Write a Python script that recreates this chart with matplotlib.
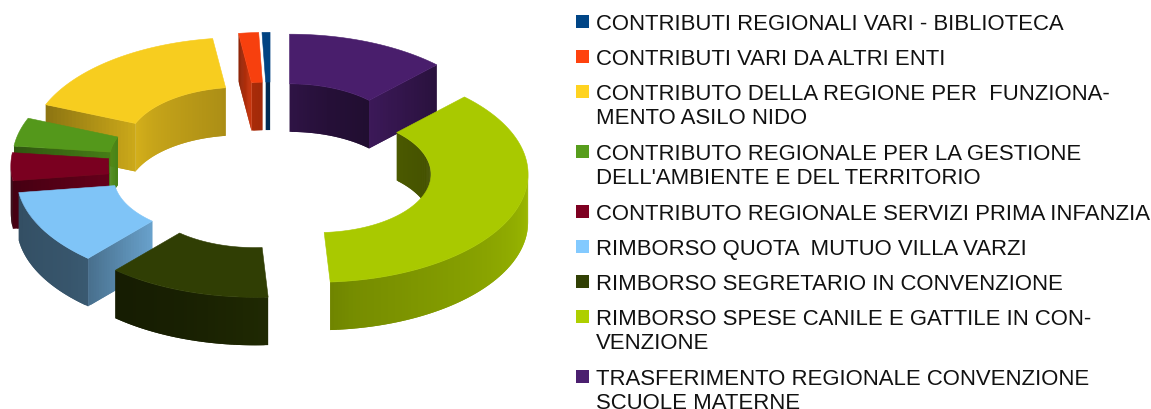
import matplotlib
matplotlib.use("Agg")
import matplotlib.pyplot as plt
import numpy as np

labels = [
    "CONTRIBUTI REGIONALI VARI - BIBLIOTECA",
    "CONTRIBUTI VARI DA ALTRI ENTI",
    "CONTRIBUTO DELLA REGIONE PER  FUNZIONA-\nMENTO ASILO NIDO",
    "CONTRIBUTO REGIONALE PER LA GESTIONE\nDELL'AMBIENTE E DEL TERRITORIO",
    "CONTRIBUTO REGIONALE SERVIZI PRIMA INFANZIA",
    "RIMBORSO QUOTA  MUTUO VILLA VARZI",
    "RIMBORSO SEGRETARIO IN CONVENZIONE",
    "RIMBORSO SPESE CANILE E GATTILE IN CON-\nVENZIONE",
    "TRASFERIMENTO REGIONALE CONVENZIONE\nSCUOLE MATERNE",
]
values = [0.61, 1.53, 16.67, 4.25, 4.17, 11.25, 12.5, 36.7, 12.3]
colors = ["#004586", "#ff420e", "#ffd320", "#579d1c", "#7e0021",
          "#83caff", "#314004", "#aecf00", "#4b1f6f"]

# projected ring geometry, in pixels
CX, CY = 271, 166.5
RX, RY = 211, 108
HOLE = 0.54
EXPLODE = 0.233
DEPTH = 48


def shade(normal):
    # brightness of a wall by the compass direction it faces (180 = towards us)
    return np.interp(normal % 360, [90, 130, 170, 200, 230, 270],
                     [0.9, 0.78, 0.68, 0.5, 0.42, 0.38])


def darker(color, k):
    rgb = np.array(matplotlib.colors.to_rgb(color))
    return tuple(np.clip(rgb * k, 0, 1))


def ring_xy(ox, oy, theta, frac):
    t = np.radians(theta)
    return ox + frac * RX * np.sin(t), oy - frac * RY * np.cos(t)


def wall(ax, x0, y0, x1, y1, color):
    ax.fill([x0, x1, x1, x0], [y0, y1, y1 + DEPTH, y0 + DEPTH],
            facecolor=color, edgecolor="none")


def curved_wall(ax, ox, oy, a0, a1, frac, color, offset):
    angles = np.linspace(a0, a1, max(int(a1 - a0) + 2, 3))
    step = angles[1] - angles[0]
    for p, q in zip(angles[:-1], angles[1:]):
        mid = (p + q) / 2
        facing = mid + offset
        # only the half that looks at the viewer
        if np.cos(np.radians(facing)) < 0:
            x0, y0 = ring_xy(ox, oy, p, frac)
            # run each strip under the next one so no seam shows
            x1, y1 = ring_xy(ox, oy, min(q + step, a1), frac)
            wall(ax, x0, y0, x1, y1, darker(color, shade(facing)))


def radial_wall(ax, ox, oy, theta, normal, color):
    if np.cos(np.radians(normal)) >= -0.1:
        return
    fracs = np.linspace(1, HOLE, 25)
    for i, (p, q) in enumerate(zip(fracs[:-1], fracs[1:])):
        x0, y0 = ring_xy(ox, oy, theta, p)
        x1, y1 = ring_xy(ox, oy, theta, fracs[min(i + 2, 24)])
        # flat end faces: dark at the rim, lighter towards the hole
        k = 0.55 + 0.25 * (1 - (p + q) / 2) / (1 - HOLE)
        wall(ax, x0, y0, x1, y1, darker(color, k))


def draw_slice(ax, a0, a1, color):
    mid = np.radians((a0 + a1) / 2)
    ox = CX + EXPLODE * RX * np.sin(mid)
    oy = CY - EXPLODE * RY * np.cos(mid)
    curved_wall(ax, ox, oy, a0, a1, HOLE, color, 180)
    radial_wall(ax, ox, oy, a0, a0 - 90, color)
    radial_wall(ax, ox, oy, a1, a1 + 90, color)
    curved_wall(ax, ox, oy, a0, a1, 1, color, 0)
    angles = np.linspace(a0, a1, max(int(a1 - a0) * 2 + 2, 3))
    xo, yo = ring_xy(ox, oy, angles, 1)
    xi, yi = ring_xy(ox, oy, angles[::-1], HOLE)
    top = darker(color, 0.97)
    ax.fill(np.r_[xo, xi], np.r_[yo, yi], facecolor=top, edgecolor=top,
            linewidth=0.4)


fig = plt.figure(figsize=(11.51, 4.10), dpi=100)
ax = fig.add_axes([0, 0, 1, 1])
ax.set_xlim(0, 1151)
ax.set_ylim(410, 0)
ax.axis("off")

# slices run clockwise from 12 o'clock, last legend entry first
vals = np.array(values[::-1])
cols = colors[::-1]
edges = np.r_[0, np.cumsum(vals)] / vals.sum() * 360
mids = (edges[:-1] + edges[1:]) / 2
# paint the far slices first
for i in np.argsort(-np.cos(np.radians(mids))):
    draw_slice(ax, edges[i], edges[i + 1], cols[i])

# legend
y = 22.8
for label, color in zip(labels, colors):
    ax.add_patch(plt.Rectangle((576.5, y - 7), 12.5, 13, facecolor=color,
                               edgecolor="none"))
    lines = label.split("\n")
    for j, line in enumerate(lines):
        ax.text(596, y + 1.7 + j * 24.5, line, family="Liberation Sans", fontsize=15.9,
                color="#111111", va="center", ha="left")
    y += 35 if len(lines) == 1 else 60

fig.savefig("out.png", dpi=100)
